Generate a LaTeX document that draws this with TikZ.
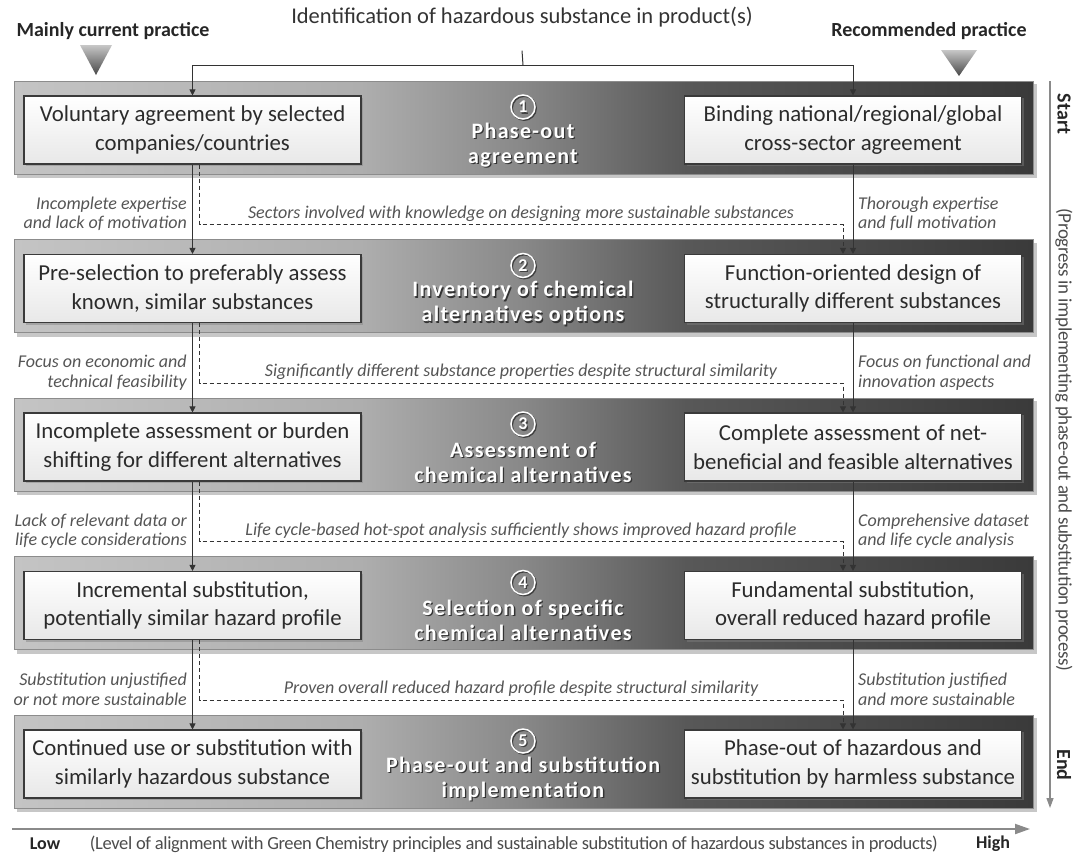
\documentclass[tikz,border=0pt]{standalone}
\usepackage{fontspec}
\setmainfont{Carlito}
\newfontfamily\ctfont[LetterSpace=6]{Carlito}
\newfontfamily\axfont[LetterSpace=-2]{Carlito}
\usetikzlibrary{arrows.meta,calc,shadows}
\definecolor{bandA}{HTML}{C4C4C4}
\definecolor{bandB}{HTML}{AEAEAE}
\definecolor{bandC}{HTML}{888888}
\definecolor{bandD}{HTML}{585858}
\definecolor{bandE}{HTML}{3A3A3A}
\definecolor{boxline}{HTML}{3A3A3A}
\definecolor{txt}{HTML}{2B2B2B}
\definecolor{lbl}{HTML}{555555}
\definecolor{axisgray}{HTML}{8A8A8A}
\pgfdeclarehorizontalshading{bandshade}{100bp}{color(0bp)=(bandA); color(25bp)=(bandA); color(42bp)=(bandB); color(50bp)=(bandC); color(58bp)=(bandD); color(75bp)=(bandE); color(100bp)=(bandE)}
\tikzset{
  box/.style={draw=boxline, line width=1.1pt, top color=white, bottom color=black!9,
    minimum width=337pt, minimum height=68pt, align=center, text=txt,
    font=\fontsize{22.8}{28.5}\selectfont, inner sep=0pt,
    drop shadow={shadow xshift=2pt, shadow yshift=-2pt, opacity=.45}},
  conn/.style={draw=black!80, line width=1pt, -{Triangle[length=6pt,width=6pt]}},
  dconn/.style={conn, dash pattern=on 4pt off 3pt},
  sidelbl/.style={text=lbl, font=\itshape\fontsize{18}{19.5}\selectfont, inner sep=0pt},
  midlbl/.style={text=lbl, font=\itshape\fontsize{18}{19.5}\selectfont, inner sep=0pt},
  ctitle/.style={text=white, align=center, font=\ctfont\bfseries\fontsize{22}{25}\selectfont, inner sep=0pt},
  cnum/.style={circle, draw=white, line width=1.5pt, minimum size=24pt, inner sep=0pt, text=white,
    font=\ctfont\bfseries\fontsize{18}{18}\selectfont},
  headlbl/.style={font=\bfseries\fontsize{20}{22}\selectfont, text=black!85},
  axislbl/.style={font=\axfont\fontsize{19}{20}\selectfont, text=black!70},
  axisline/.style={draw=axisgray, line width=1.2pt, -{Triangle[length=10pt,width=7pt]}},
}
\begin{document}
\begin{tikzpicture}[x=1pt,y=-1pt]
\useasboundingbox (0,0) rectangle (1075,855);
% bands
\foreach \i/\lt/\rt/\ct in {
 1/{Voluntary agreement by selected\\companies/countries}/{Binding national/regional/global\\cross-sector agreement}/{Phase-out\\agreement},
 2/{Pre-selection to preferably assess\\known, similar substances}/{Function-oriented design of\\structurally different substances}/{Inventory of chemical\\alternatives options},
 3/{Incomplete assessment or burden\\shifting for different alternatives}/{Complete assessment of net-\\beneficial and feasible alternatives}/{Assessment of\\chemical alternatives},
 4/{Incremental substitution,\\potentially similar hazard profile}/{Fundamental substitution,\\overall reduced hazard profile}/{Selection of specific\\chemical alternatives},
 5/{Continued use or substitution with\\similarly hazardous substance}/{Phase-out of hazardous and\\substitution by harmless substance}/{Phase-out and substitution\\implementation}}{
  \pgfmathsetmacro{\bt}{81+158.5*(\i-1)}
  \fill[black!40, opacity=.55] (17,\bt+3) rectangle (1037,\bt+97);
  \shadedraw[shading=bandshade, draw=black!45, line width=.6pt] (14,\bt) rectangle (1033,\bt+93);
  \node[box] (L\i) at (192.5,\bt+49) {\lt};
  \node[box] (R\i) at (853,\bt+49) {\rt};
  \node[cnum, draw=black!75, text=black!75] (n\i s) at (524.2,\bt+27.2) {\i};
  \node[cnum] (n\i) at (523,\bt+26) {\i};
  \node[ctitle, text=black!80] (t\i s) at (524.3,\bt+65.3) {\ct};
  \node[ctitle] (t\i) at (523,\bt+64) {\ct};
}
% gap labels and dashed corners
\foreach \k/\ll/\rl/\ml in {
 1/{Incomplete expertise\\and lack of motivation}/{Thorough expertise\\and full motivation}/{Sectors involved with knowledge on designing more sustainable substances},
 2/{Focus on economic and\\technical feasibility}/{Focus on functional and\\innovation aspects}/{Significantly different substance properties despite structural similarity},
 3/{Lack of relevant data or\\life cycle considerations}/{Comprehensive dataset\\and life cycle analysis}/{Life cycle-based hot-spot analysis sufficiently shows improved hazard profile},
 4/{Substitution unjustified\\or not more sustainable}/{Substitution justified\\and more sustainable}/{Proven overall reduced hazard profile despite structural similarity}}{
  \pgfmathsetmacro{\dy}{81+158.5*\k-15}
  \pgfmathtruncatemacro{\j}{\k+1}
  \coordinate (D\j) at (843,\dy);
  \node[sidelbl, anchor=east, align=right] (ll\k) at (187,\dy-10.5) {\ll};
  \node[sidelbl, anchor=west, align=left] (rl\k) at (858,\dy-10.5) {\rl};
  \node[midlbl] (ml\k) at (521,\dy-11) {\ml};
}
\foreach \k in {1,...,4}{
  \pgfmathtruncatemacro{\j}{\k+1}
  \draw[conn] (L\k) -- (L\j);
  \draw[conn] (R\k) -- (R\j);
  \draw[dconn] ([xshift=7pt]L\k.south) |- (D\j) -- (D\j |- R\j.north);
}
% top
\node[font=\fontsize{22.5}{26}\selectfont, text=black!80] (title) at (522,17) {Identification of hazardous substance in product(s)};
\coordinate (T) at (523,65);
\draw[draw=black!80, line width=1pt] ([yshift=-20pt]title.south) -- (T);
\draw[conn] (T) -| (L1.north);
\draw[conn] (T) -| (R1.north);
\node[headlbl] (mcp) at (113,31) {Mainly current practice};
\node[headlbl] (rp) at (929,31) {Recommended practice};
\shade[top color=black!22, bottom color=black!72] (80,45) -- (112,45) -- (96,75) -- cycle;
\shade[top color=black!22, bottom color=black!72] (941,50) -- (977,50) -- (959,76) -- cycle;
% right axis
\coordinate (vs) at (1050,81);
\coordinate (ve) at (1050,808);
\draw[axisline] (vs) -- (ve);
\node[headlbl, rotate=-90] (start) at (1064,114) {Start};
\node[headlbl, rotate=-90] (end) at (1064,765) {End};
\node[axislbl, rotate=-90] (prog) at (1064,440) {(Progress in implementing phase-out and substitution process)};
% bottom axis
\coordinate (hs) at (12,829);
\coordinate (he) at (1030,829);
\draw[axisline, line width=2pt, -{Triangle[length=15pt,width=10pt]}] (hs) -- (he);
\node[headlbl, font=\bfseries\fontsize{18}{20}\selectfont] (low) at (45,844) {Low};
\node[headlbl, font=\bfseries\fontsize{18}{20}\selectfont] (high) at (993,844) {High};
\node[axislbl, font=\axfont\fontsize{18.5}{20}\selectfont] (lvl) at (514,844) {(Level of alignment with Green Chemistry principles and sustainable substitution of hazardous substances in products)};
\end{tikzpicture}
\end{document}
